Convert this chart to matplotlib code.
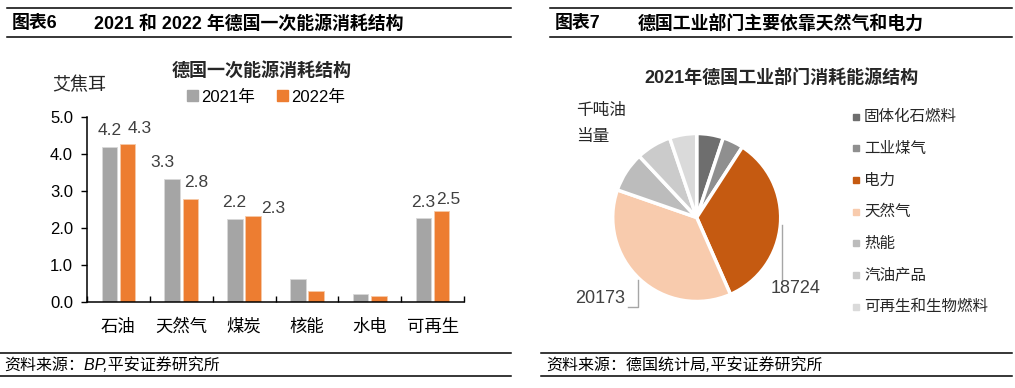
import numpy as np
import matplotlib
matplotlib.use("Agg")
import matplotlib.pyplot as plt
from matplotlib.lines import Line2D
from matplotlib.patches import Patch

plt.rcParams['font.family'] = ['Liberation Sans', 'Noto Sans CJK SC', 'DejaVu Sans']
plt.rcParams['axes.unicode_minus'] = False

W, H = 1015, 388

# --- data: chart 6 ---
categories = ['石油', '天然气', '煤炭', '核能', '水电', '可再生']
series_names = ['2021年', '2022年']
values_2021 = [4.19, 3.32, 2.24, 0.62, 0.21, 2.27]
values_2022 = [4.26, 2.78, 2.32, 0.30, 0.15, 2.46]
labelled = [True, True, True, False, False, True]
yticks = [0.0, 1.0, 2.0, 3.0, 4.0, 5.0]

# --- data: chart 7 ---
pie_labels = ['固体化石燃料', '工业煤气', '电力', '天然气', '热能', '汽油产品', '可再生和生物燃料']
pie_values = [2800, 2200, 18724, 20173, 4200, 3700, 2850]
pie_colors = ['#6e6e6e', '#8f8f8f', '#c55a11', '#f8cbad', '#bcbcbc', '#cbcbcb', '#dadada']

bar_colors = ['#a5a5a5', '#ed7d31']
# label nudges in pixels (dx, dy above bar top), Excel moved overlapping ones
offs_2021 = [(0, 11.5), (-10, 12.5), (-1, 12), None, None, (0, 11.5)]
offs_2022 = [(12, 11), (5.5, 12), (19.5, 3), None, None, (6.5, 7)]


def px_rect(x0, y0, x1, y1):
    # pixel box (top-left origin) -> figure fraction rect
    return [x0 / W, 1 - y1 / H, (x1 - x0) / W, (y1 - y0) / H]


def fx(x):
    return x / W


def fy(y):
    return 1 - y / H


fig = plt.figure(figsize=(W / 100, H / 100), dpi=100)

# frame lines and headers
for (xa, xb, y) in [(7, 511, 8), (7, 511, 37), (0, 511, 353), (0, 511, 376),
                    (550, 1012, 8), (550, 1012, 37), (541, 1012, 353), (541, 1012, 376)]:
    fig.add_artist(Line2D([fx(xa), fx(xb)], [fy(y), fy(y)], color='black', lw=1.1))

hdr = 12.9
fig.text(fx(12), fy(24), '图表6', fontsize=hdr, fontweight='bold', va='center')
fig.text(fx(94), fy(24), '2021 和 2022 年德国一次能源消耗结构', fontsize=hdr,
         fontweight='bold', va='center')
fig.text(fx(555), fy(24), '图表7', fontsize=hdr, fontweight='bold', va='center')
fig.text(fx(638), fy(24), '德国工业部门主要依靠天然气和电力', fontsize=hdr,
         fontweight='bold', va='center')
fig.text(fx(4), fy(365), '资料来源：BP,平安证券研究所', fontsize=11.5, style='italic', va='center')
fig.text(fx(546), fy(365), '资料来源：德国统计局,平安证券研究所', fontsize=11.5,
         style='italic', va='center')

# --- bar chart ---
ax = fig.add_axes(px_rect(87, 117, 464, 302))
x = np.arange(len(categories))
bw = 0.245
sh = 0.145
b1 = ax.bar(x - sh, values_2021, bw, color=bar_colors[0], edgecolor='#d9d9d9', lw=0.6,
            label=series_names[0])
b2 = ax.bar(x + sh, values_2022, bw, color=bar_colors[1], edgecolor='#f6c9a8', lw=0.6,
            label=series_names[1])
ax.set_xlim(-0.5, len(categories) - 0.5)
ax.set_ylim(0, 5)
ax.set_yticks(yticks)
ax.set_yticklabels([f'{t:.1f}' for t in yticks], fontsize=12)
ax.set_xticks(x)
ax.set_xticklabels(categories, fontsize=12.5)
ax.set_xticks(np.arange(len(categories) + 1) - 0.5, minor=True)
ax.tick_params(axis='x', which='major', length=0, pad=12)
ax.tick_params(axis='x', which='minor', direction='in', length=4, width=1)
ax.tick_params(axis='y', direction='out', length=4, width=1, pad=6)
for s in ['top', 'right']:
    ax.spines[s].set_visible(False)
for s in ['left', 'bottom']:
    ax.spines[s].set_linewidth(1.1)

for bars, vals, offs in [(b1, values_2021, offs_2021), (b2, values_2022, offs_2022)]:
    for rect, v, on, o in zip(bars, vals, labelled, offs):
        if not on:
            continue
        ax.annotate(f'{v:.1f}', (rect.get_x() + rect.get_width() / 2, v),
                    xytext=(o[0] * 0.72, o[1] * 0.72), textcoords='offset points',
                    ha='center', va='baseline', fontsize=12.5, color='#404040')

fig.text(fx(79), fy(86), '艾焦耳', fontsize=13, ha='center', va='center', color='#262626')
fig.text(fx(262), fy(71), '德国一次能源消耗结构', fontsize=13, fontweight='bold',
         ha='center', va='center', color='#262626')
handles = [Patch(color=c) for c in bar_colors]
fig.legend(handles, series_names, loc='center', bbox_to_anchor=(fx(266), fy(97)),
           ncol=2, frameon=False, fontsize=12, handlelength=0.65, handleheight=0.65,
           handletextpad=0.2, columnspacing=1.3, borderpad=0)

# --- pie chart ---
pcx, pcy, r = 696.7, 217.5, 84
pax = fig.add_axes(px_rect(pcx - r, pcy - r, pcx + r, pcy + r))
wedges, _ = pax.pie(pie_values, colors=pie_colors, startangle=90, counterclock=False,
                    radius=1, wedgeprops=dict(edgecolor='white', linewidth=2.5))
pax.set_xlim(-1, 1)
pax.set_ylim(-1, 1)

# leader lines + the two labels
lc = '#a6a6a6'
pax.plot([1.012, 1.012], [-0.09, -0.745], color=lc, lw=1, clip_on=False)
pax.text(1.18, -0.84, f'{pie_values[2]}', fontsize=13, ha='center', va='center',
         color='#404040')
pax.plot([-0.702, -0.702, -0.82], [-0.745, -1.062, -1.062], color=lc, lw=1, clip_on=False)
pax.text(-0.85, -0.97, f'{pie_values[3]}', fontsize=13, ha='right', va='center',
         color='#404040')

fig.text(fx(576), fy(110), '千吨油', fontsize=12, va='center', color='#262626')
fig.text(fx(576), fy(136), '当量', fontsize=12, va='center', color='#262626')
fig.text(fx(781), fy(78), '2021年德国工业部门消耗能源结构', fontsize=13,
         fontweight='bold', ha='center', va='center', color='#262626')

# legend of pie
for i, (lab, col) in enumerate(zip(pie_labels, pie_colors)):
    yy = 116.7 + i * 31.67
    fig.add_artist(Line2D([fx(856)], [fy(yy)], marker='s', markersize=4.2, color=col,
                          linestyle='none'))
    fig.text(fx(864), fy(yy), lab, fontsize=11.2, va='center', color='#262626')

fig.savefig('out.png', dpi=100)
